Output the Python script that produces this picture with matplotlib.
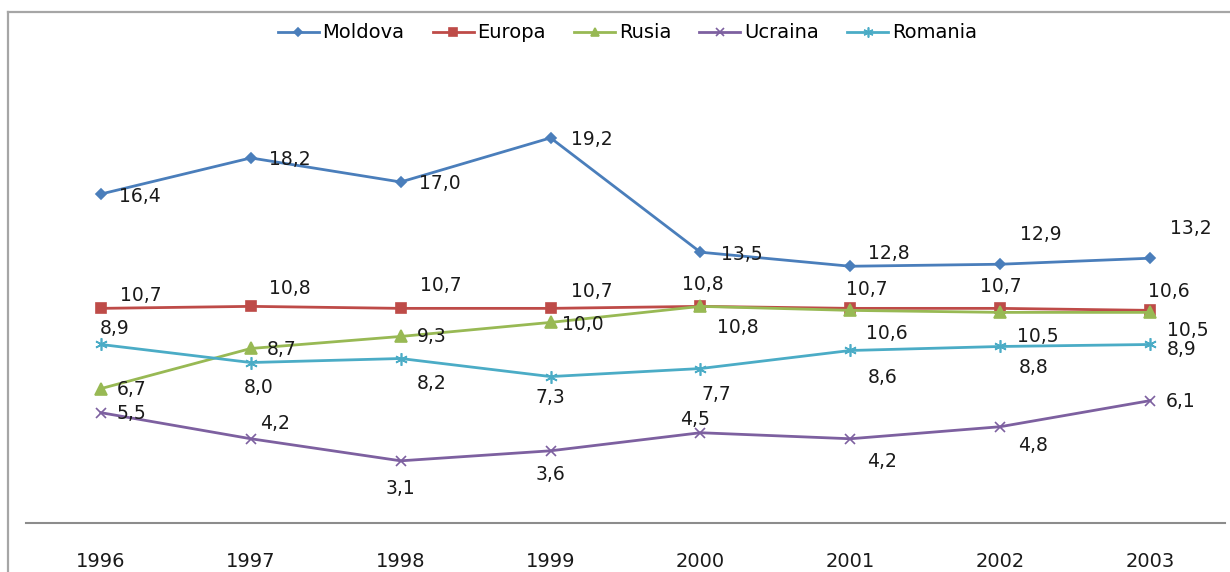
import matplotlib
matplotlib.use("Agg")
import matplotlib.pyplot as plt
from matplotlib.lines import Line2D

# Data
years = ["1996", "1997", "1998", "1999", "2000", "2001", "2002", "2003"]
moldova = [16.4, 18.2, 17.0, 19.2, 13.5, 12.8, 12.9, 13.2]
europa = [10.7, 10.8, 10.7, 10.7, 10.8, 10.7, 10.7, 10.6]
rusia = [6.7, 8.7, 9.3, 10.0, 10.8, 10.6, 10.5, 10.5]
ucraina = [5.5, 4.2, 3.1, 3.6, 4.5, 4.2, 4.8, 6.1]
romania = [8.9, 8.0, 8.2, 7.3, 7.7, 8.6, 8.8, 8.9]

# label offsets in pixels (dx, dy down-positive) - hand placed like the original
OFF = {
    'Moldova': [(39, 2), (39, 2), (39, 2), (41, 2), (41, 2), (39, -13), (41, -30), (41, -30)],
    'Europa': [(40, -13), (39, -18), (40, -23), (41, -17), (2, -22), (16, -19), (1, -22), (19, -19)],
    'Rusia': [(31, 1), (31, 1), (31, 0), (32, 2), (37, 21), (37, 23), (38, 24), (38, 18)],
    'Ucraina': [(31, 1), (24, -15), (0, 28), (0, 24), (-5, -13), (32, 23), (33, 19), (31, 1)],
    'Romania': [(14, -16), (8, 25), (31, 25), (0, 21), (16, 26), (32, 27), (33, 21), (32, 5)],
}

SERIES = [
    ('Moldova', moldova, '#4A7EBB', 'D', 5),
    ('Europa', europa, '#BE4B48', 's', 7.5),
    ('Rusia', rusia, '#98B954', '^', 8),
    ('Ucraina', ucraina, '#7D60A0', 'x', 7),
    ('Romania', romania, '#4BACC6', (6, 2, 0), 9),
]

fig = plt.figure(figsize=(12.3, 5.72), dpi=100)
fig.patch.set_facecolor('white')

# chart area border (only left / top visible in the cropped original)
fig.add_artist(Line2D([8 / 1230, 8 / 1230], [0, 1 - 12 / 572], transform=fig.transFigure,
                      color='#A6A6A6', lw=1.6))
fig.add_artist(Line2D([8 / 1230, 1], [1 - 12 / 572, 1 - 12 / 572], transform=fig.transFigure,
                      color='#A6A6A6', lw=1.6))

ax = fig.add_axes([26 / 1230, 49 / 572, 1199 / 1230, 0.8767])
x = list(range(len(years)))

for name, vals, col, mk, ms in SERIES:
    ax.plot(x, vals, color=col, lw=2.0, marker=mk, markersize=ms,
            markerfacecolor=col, markeredgecolor=col, markeredgewidth=1.2,
            label=name, zorder=3)
    for i, v in enumerate(vals):
        dx, dy = OFF[name][i]
        ax.annotate(f"{v:.1f}".replace('.', ','), (i, v), xytext=(dx, -dy),
                    textcoords='offset pixels', ha='center', va='center',
                    fontsize=13.5, color='#1A1A1A', zorder=5)

ax.set_xlim(-0.5, 7.5)
ax.set_ylim(0, 25)
ax.set_xticks(x)
ax.set_xticklabels(years, fontsize=14, color='#1A1A1A',
                   family=['Liberation Sans Narrow', 'DejaVu Sans Condensed', 'DejaVu Sans'])
ax.tick_params(axis='x', length=0, pad=21)
ax.set_yticks([])
for s in ['top', 'left', 'right']:
    ax.spines[s].set_visible(False)
ax.spines['bottom'].set_color('#8C8C8C')
ax.spines['bottom'].set_linewidth(1.5)
ax.patch.set_alpha(0)

handles, labels = ax.get_legend_handles_labels()
fig.legend(handles, labels, loc='center', bbox_to_anchor=(0.51, 1 - 33 / 572), ncol=5,
           frameon=False, fontsize=14, handlelength=2.1, handletextpad=0.2,
           columnspacing=1.45, markerscale=0.8)

fig.savefig('out.png', dpi=100, facecolor='white')
